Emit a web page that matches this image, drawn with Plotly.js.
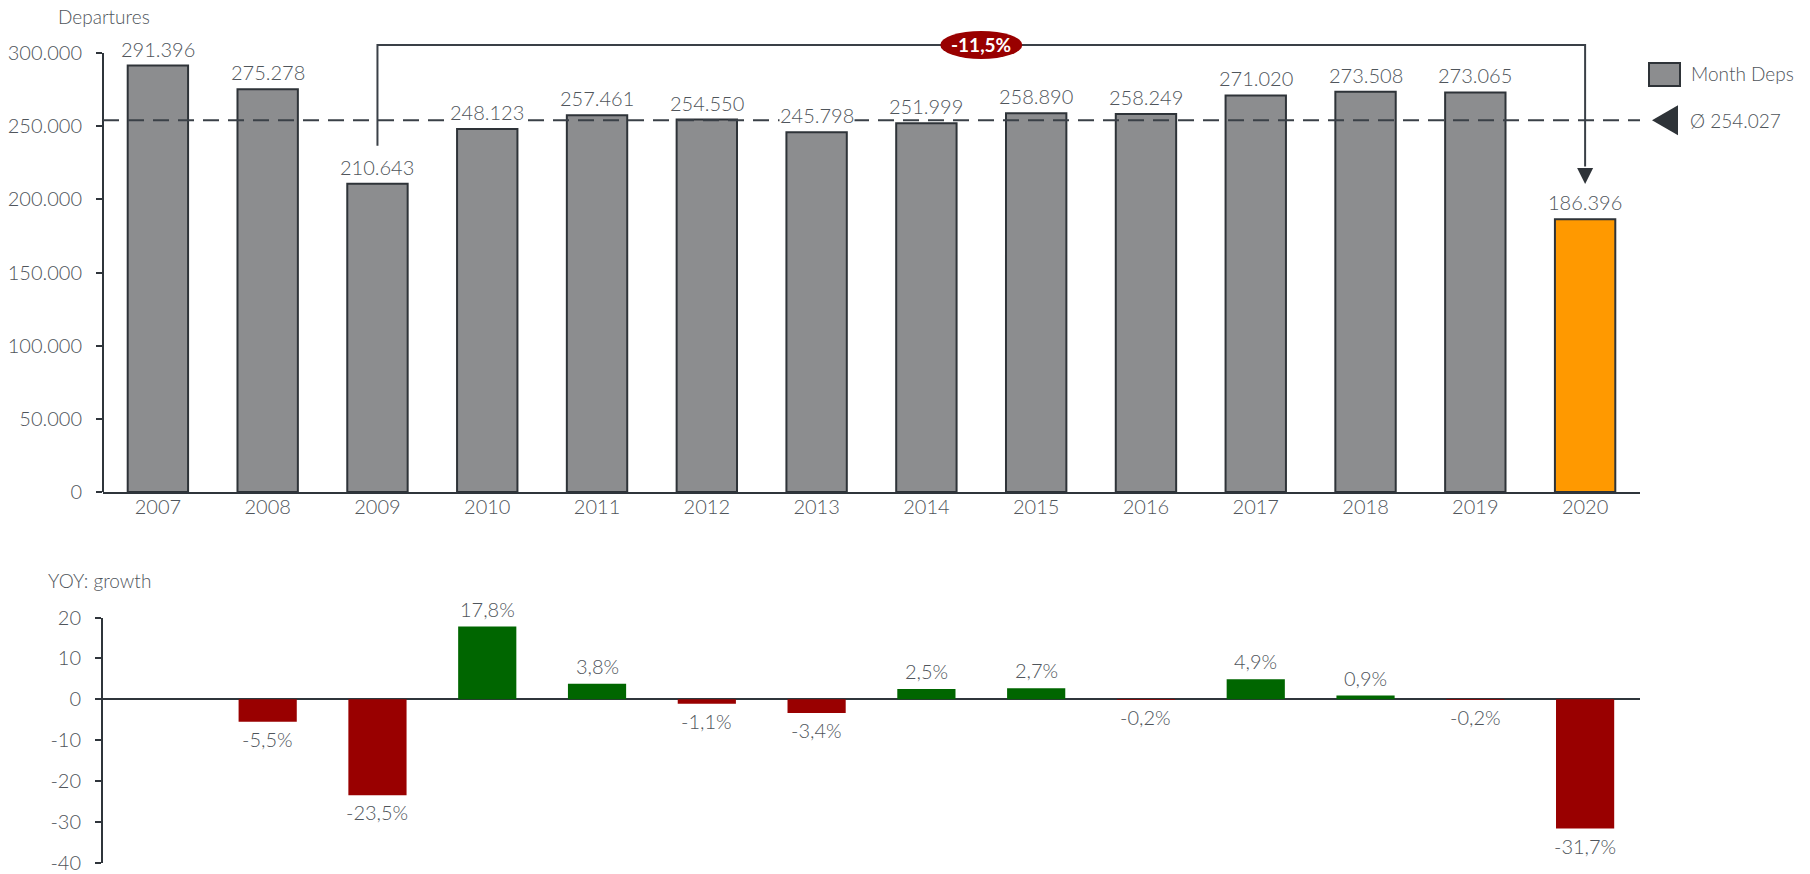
<!DOCTYPE html>
<html>
<head>
<meta charset="utf-8">
<script src="https://cdn.plot.ly/plotly-3.0.1.min.js"></script>
<style>
html,body{margin:0;padding:0;background:#ffffff;}
#chart{width:1810px;height:874px;}
</style>
</head>
<body>
<div id="chart"></div>
<script>
// ---- data ----
const years = ['2007','2008','2009','2010','2011','2012','2013','2014','2015','2016','2017','2018','2019','2020'];
const departures = [291396, 275278, 210643, 248123, 257461, 254550, 245798, 251999, 258890, 258249, 271020, 273508, 273065, 186396];
const growth = [null, -5.5, -23.5, 17.8, 3.8, -1.1, -3.4, 2.5, 2.7, -0.2, 4.9, 0.9, -0.2, -31.7];
const depTickVals = [0, 50000, 100000, 150000, 200000, 250000, 300000];
const depTickText = ['0', '50.000', '100.000', '150.000', '200.000', '250.000', '300.000'];
const growthTickVals = [-40, -30, -20, -10, 0, 10, 20];
const growthTickText = ['-40', '-30', '-20', '-10', '0', '10', '20'];
const seriesName = 'Month Deps';
const topTitle = 'Departures';
const bottomTitle = 'YOY: growth';
const highlightYear = '2020';
const compareFrom = '2009';
const compareTo = '2020';

// ---- helpers ----
function thousands(v) {
  return String(Math.round(v)).replace(/\B(?=(\d{3})+(?!\d))/g, '.');
}
function pct(v) {
  return v.toFixed(1).replace('.', ',') + '%';
}

const W = 1810, H = 874;
const FONT = 'Lato, "Open Sans", sans-serif';
const TXT = '#4f555b';
const AX = '#2f353b';
const BAR = '#8c8d8f';
const BAR_LINE = '#2e3338';
const HIGHLIGHT = '#ff9900';
const POS = '#006600';
const NEG = '#990000';
const LABEL_SIZE = 20;

// plot geometry (pixels)
const xLeft = 103, xRight = 1640;
const topZeroPx = 492, top300Px = 53;
const pxPerUnit = (topZeroPx - top300Px) / 300000;
const topRangeMax = 320000;
const topTopPx = topZeroPx - topRangeMax * pxPerUnit;
const botTopPx = 617.6, botBottomPx = 862.5;

const avg = departures.reduce((a, b) => a + b, 0) / departures.length;
const iFrom = years.indexOf(compareFrom);
const iTo = years.indexOf(compareTo);
const change = (departures[iTo] / departures[iFrom] - 1) * 100;
const changeText = change.toFixed(1).replace('.', ',') + '%';

const bracketTop = 305500;
const bracketFromY = departures[iFrom] + 26000;
const bracketTipY = departures[iTo] + 24000;

const traces = [
  {
    type: 'bar', name: seriesName, x: years, y: departures, xaxis: 'x', yaxis: 'y',
    width: 0.55,
    marker: { color: years.map(y => y === highlightYear ? HIGHLIGHT : BAR), line: { color: BAR_LINE, width: 2 } },
    hoverinfo: 'skip', showlegend: false
  },
  {
    type: 'bar', name: 'YOY growth', x: years, y: growth, xaxis: 'x2', yaxis: 'y2',
    width: 0.53,
    marker: { color: growth.map(v => (v !== null && v >= 0) ? POS : NEG), line: { width: 0 } },
    hoverinfo: 'skip', showlegend: false
  }
];

const labelFont = { family: FONT, size: LABEL_SIZE, color: TXT, weight: 300 };

const depLabels = departures.map((v, i) => ({
  xref: 'x', yref: 'y', x: i, y: v, yshift: 17, xanchor: 'center', yanchor: 'middle',
  text: thousands(v), showarrow: false, font: labelFont, bgcolor: '#ffffff', borderpad: 0
}));
const growthLabels = growth.map((v, i) => v === null ? null : ({
  xref: 'x2', yref: 'y2', x: i, y: v, yshift: v >= 0 ? 18 : -17, xanchor: 'center', yanchor: 'middle',
  text: pct(v), showarrow: false, font: labelFont
})).filter(a => a !== null);

const xDomain = [xLeft / W, xRight / W];
const tickFont = { family: FONT, size: LABEL_SIZE, color: TXT, weight: 300 };
const titleFont = { family: FONT, size: 19, color: TXT, weight: 300 };

const layout = {
  width: W, height: H,
  margin: { l: 0, r: 0, t: 0, b: 0, pad: 0 },
  paper_bgcolor: '#ffffff', plot_bgcolor: '#ffffff',
  showlegend: false,
  separators: ',.',
  font: { family: FONT, size: 18, color: TXT },
  xaxis: {
    type: 'category', domain: xDomain, range: [-0.5, years.length - 0.5], anchor: 'y',
    showline: true, linecolor: AX, linewidth: 2, ticks: '', showgrid: false, zeroline: false,
    tickfont: tickFont, ticklabelstandoff: -4, fixedrange: true
  },
  yaxis: {
    domain: [(H - topZeroPx) / H, (H - topTopPx) / H], range: [0, topRangeMax], anchor: 'x',
    tickmode: 'array', tickvals: depTickVals, ticktext: depTickText,
    ticks: 'outside', ticklen: 6, tickwidth: 2, tickcolor: AX,
    showline: false, showgrid: false, zeroline: false,
    tickfont: tickFont, ticklabelstandoff: 10, ticklabeloverflow: 'allow', fixedrange: true
  },
  xaxis2: {
    type: 'category', domain: xDomain, range: [-0.5, years.length - 0.5], anchor: 'y2',
    showline: false, ticks: '', showticklabels: false, showgrid: false, zeroline: false, fixedrange: true
  },
  yaxis2: {
    domain: [(H - botBottomPx) / H, (H - botTopPx) / H], range: [-40, 20], anchor: 'x2',
    tickmode: 'array', tickvals: growthTickVals, ticktext: growthTickText,
    ticks: 'outside', ticklen: 6, tickwidth: 2, tickcolor: AX,
    showline: true, linecolor: AX, linewidth: 2, showgrid: false,
    zeroline: true, zerolinecolor: AX, zerolinewidth: 2,
    tickfont: tickFont, ticklabelstandoff: 10, ticklabeloverflow: 'allow', fixedrange: true
  },
  shapes: [
    // top y-axis line (ends at last tick)
    { type: 'line', xref: 'paper', yref: 'y', x0: xLeft / W, x1: xLeft / W,
      y0: depTickVals[0], y1: depTickVals[depTickVals.length - 1], line: { color: AX, width: 2 } },
    // average dashed line
    { type: 'line', xref: 'x', yref: 'y', x0: -0.5, x1: years.length - 0.5, y0: avg, y1: avg,
      line: { color: '#3a4047', width: 2, dash: '16px,9px' } },
    // bracket
    { type: 'path', xref: 'x', yref: 'y',
      path: `M ${iFrom},${bracketFromY} L ${iFrom},${bracketTop} L ${iTo},${bracketTop} L ${iTo},${bracketTipY + 12000}`,
      line: { color: '#3a4047', width: 2 } },
    // arrow head
    { type: 'path', xref: 'x', yref: 'y', xsizemode: 'pixel', ysizemode: 'pixel',
      xanchor: iTo, yanchor: bracketTipY, path: 'M -8,16 L 8,16 L 0,0 Z',
      fillcolor: '#2e3338', line: { width: 0 } },
    // ellipse badge
    { type: 'circle', xref: 'x', yref: 'y', xsizemode: 'pixel', ysizemode: 'pixel',
      xanchor: (iFrom + iTo) / 2, yanchor: bracketTop, x0: -41, x1: 41, y0: -14, y1: 14,
      fillcolor: '#990000', line: { width: 0 } },
    // average marker triangle
    { type: 'path', xref: 'paper', yref: 'y', xsizemode: 'pixel', ysizemode: 'pixel',
      xanchor: 1665 / W, yanchor: avg, path: 'M -13,0 L 13,15 L 13,-15 Z',
      fillcolor: '#2e3338', line: { width: 0 } },
    // legend box
    { type: 'rect', xref: 'paper', yref: 'paper', x0: 1649 / W, x1: 1680 / W, y0: (H - 86) / H, y1: (H - 63) / H,
      fillcolor: BAR, line: { color: BAR_LINE, width: 2 } }
  ],
  annotations: [
    { xref: 'paper', yref: 'paper', x: 56 / W, y: (H - 16) / H, xanchor: 'left', yanchor: 'middle',
      text: topTitle, showarrow: false, font: titleFont },
    { xref: 'paper', yref: 'paper', x: 46 / W, y: (H - 580) / H, xanchor: 'left', yanchor: 'middle',
      text: bottomTitle, showarrow: false, font: titleFont },
    { xref: 'paper', yref: 'paper', x: 1689 / W, y: (H - 74) / H, xanchor: 'left', yanchor: 'middle',
      text: seriesName, showarrow: false, font: titleFont },
    { xref: 'paper', yref: 'y', x: 1688 / W, y: avg, xanchor: 'left', yanchor: 'middle',
      text: 'Ø ' + thousands(avg), showarrow: false, font: titleFont },
    { xref: 'x', yref: 'y', x: (iFrom + iTo) / 2, y: bracketTop, xanchor: 'center', yanchor: 'middle',
      text: '<b>' + changeText + '</b>', showarrow: false, font: { family: FONT, size: 19, color: '#ffffff' } }
  ].concat(depLabels, growthLabels)
};

Plotly.newPlot('chart', traces, layout, { displayModeBar: false, staticPlot: true });
</script>
</body>
</html>
